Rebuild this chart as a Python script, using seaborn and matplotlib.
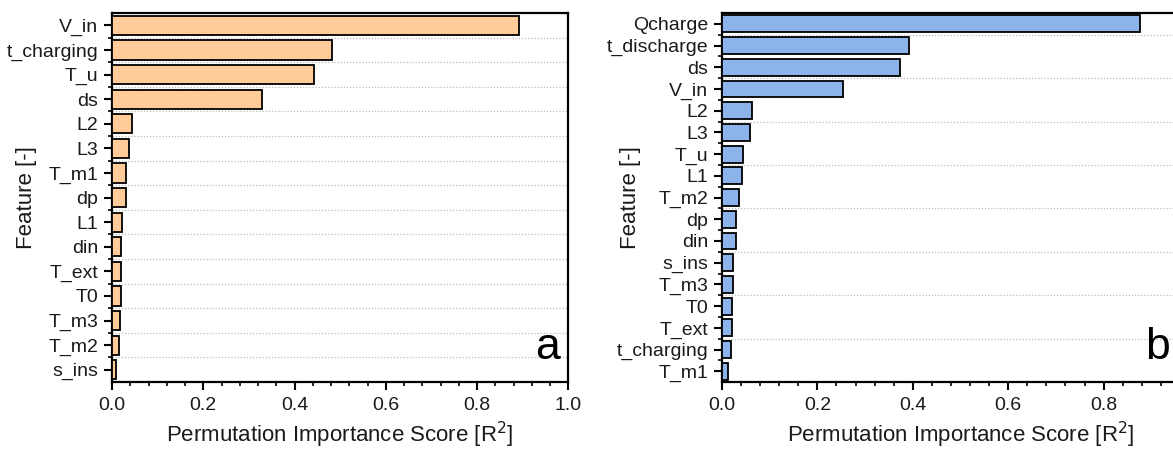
import numpy as np
import matplotlib
matplotlib.use("Agg")
import matplotlib.pyplot as plt
import seaborn as sns
from matplotlib.ticker import MultipleLocator, FixedLocator

sns.set_theme(style="white")
plt.rcParams["font.family"] = ["Liberation Sans", "DejaVu Sans"]

# data

features_a = ["V_in", "t_charging", "T_u", "ds", "L2", "L3", "T_m1", "dp", "L1",
              "din", "T_ext", "T0", "T_m3", "T_m2", "s_ins"]
scores_a = [0.891, 0.481, 0.442, 0.329, 0.044, 0.037, 0.031, 0.030, 0.022,
            0.020, 0.020, 0.020, 0.018, 0.016, 0.009]

features_b = ["Qcharge", "t_discharge", "ds", "V_in", "L2", "L3", "T_u", "L1", "T_m2",
              "dp", "din", "s_ins", "T_m3", "T0", "T_ext", "t_charging", "T_m1"]
scores_b = [0.876, 0.392, 0.373, 0.254, 0.063, 0.059, 0.044, 0.041, 0.036,
            0.030, 0.030, 0.024, 0.023, 0.022, 0.022, 0.018, 0.013]

x_ticks = [0.0, 0.2, 0.4, 0.6, 0.8, 1.0]

# figure

fig = plt.figure(figsize=(11.73, 4.49), dpi=100)
ax_a = fig.add_axes([0.0955, 0.149, 0.389, 0.822])
ax_b = fig.add_axes([0.6155, 0.149, 0.4067, 0.822])


def panel(ax, feats, vals, color, letter, letter_x, grid_step, ylab_x, shown_ticks):
    sns.barplot(x=vals, y=feats, ax=ax, color=color, edgecolor="black",
                linewidth=1.3, width=0.78, saturation=1, zorder=3)
    n = len(feats)
    ax.set_xlim(0, 1.0)
    ax.set_ylim(n - 0.5, -0.5)
    ax.xaxis.set_minor_locator(MultipleLocator(0.04))
    ax.set_xticks(x_ticks)
    ax.set_xticklabels([f"{v:.1f}" if v in shown_ticks else "" for v in x_ticks])
    ax.yaxis.set_minor_locator(FixedLocator(np.arange(0.5, n - 1, 1)))

    # dotted grid between categories
    for yy in np.arange(0.5, n - 1, grid_step):
        ax.axhline(yy, color="#bdbdbd", linestyle=(0, (1, 1.5)), linewidth=0.9, zorder=0)

    for s in ax.spines.values():
        s.set_visible(True)
        s.set_color("black")
        s.set_linewidth(1.6)

    ax.tick_params(axis="both", which="major", direction="out", length=6, width=1.5,
                   color="black", labelsize=14, labelcolor="#1a1a1a")
    ax.tick_params(axis="both", which="minor", direction="out", length=3, width=1.2,
                   color="black")
    ax.tick_params(axis="y", which="major", pad=4)
    ax.tick_params(axis="x", which="major", pad=5)
    ax.tick_params(axis="both", which="both", bottom=True, left=True, top=False, right=False)

    ax.set_xlabel("Permutation Importance Score [R$^2$]", fontsize=16, labelpad=4,
                  color="#1a1a1a")
    ax.set_ylabel("Feature [-]", fontsize=16, color="#1a1a1a")
    ax.yaxis.set_label_coords(ylab_x, 0.5)

    ax.text(letter_x, 0.062, letter, transform=ax.transAxes, ha="right",
            va="baseline", fontsize=32, color="black")


panel(ax_a, features_a, scores_a, "#FFCB99", "a", 0.982, 1, -0.165, x_ticks)
panel(ax_b, features_b, scores_b, "#8DB3EB", "b", 0.938, 2, -0.17, x_ticks[:-1])

# export

plt.savefig("out.png", dpi=100)
